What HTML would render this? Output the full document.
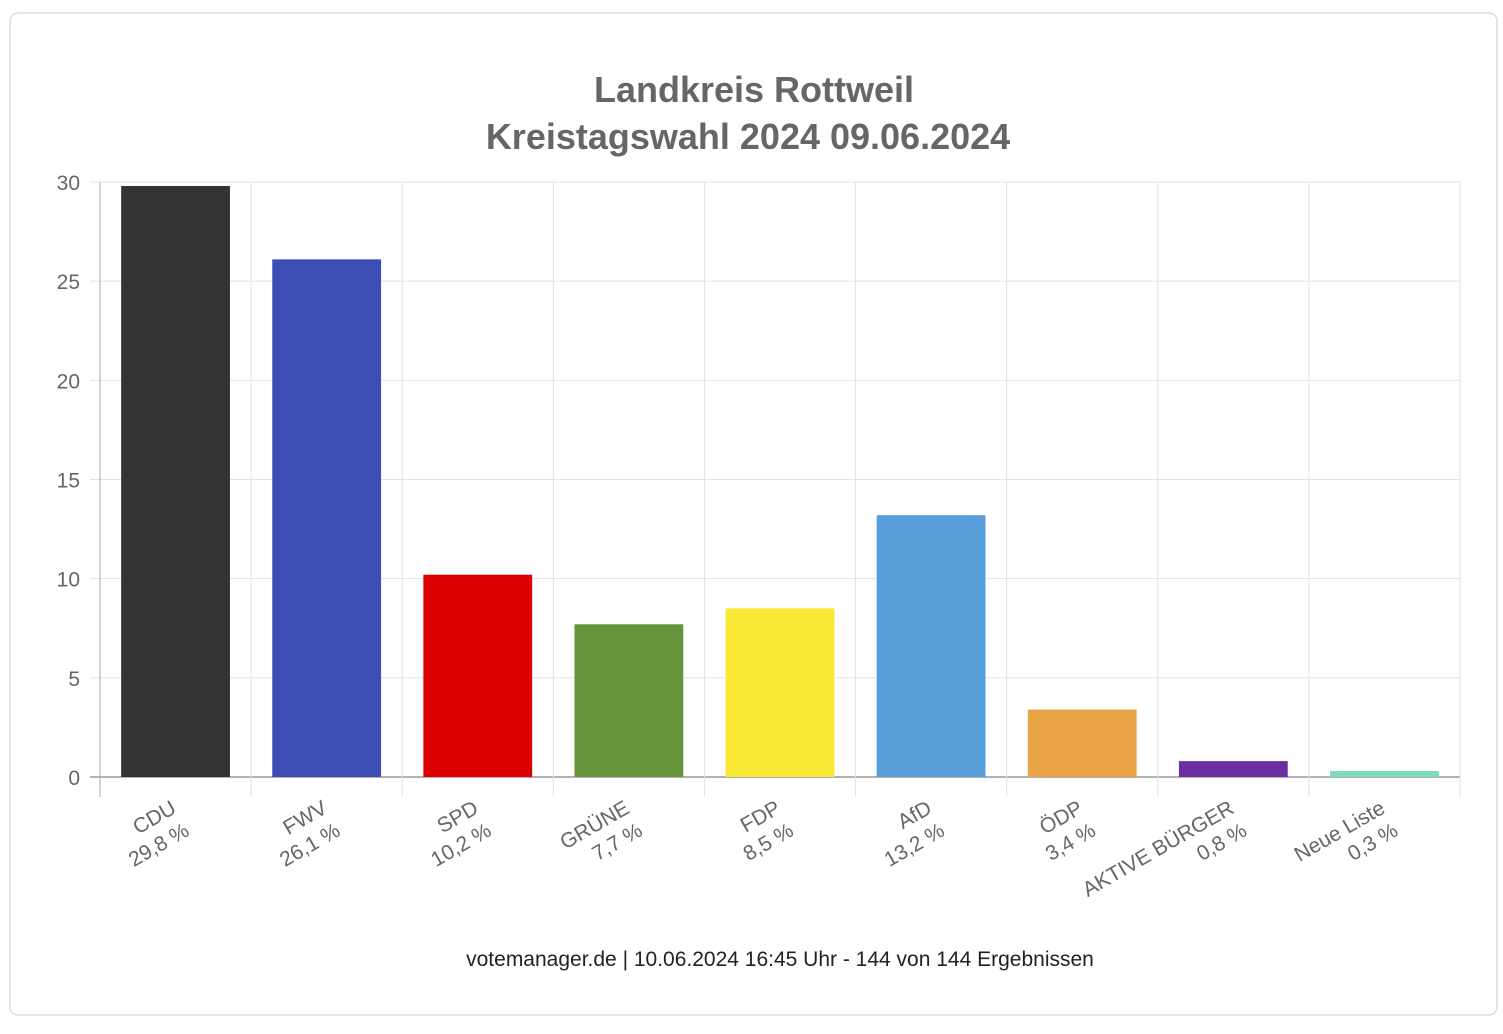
<!DOCTYPE html>
<html><head><meta charset="utf-8"><style>
html,body{margin:0;padding:0;background:#fff;}
body{width:1503px;height:1029px;overflow:hidden;font-family:"Liberation Sans",Arial,sans-serif;}
</style></head><body>
<svg id="chart" width="1503" height="1029" xmlns="http://www.w3.org/2000/svg">
<rect x="10" y="13" width="1487" height="1002" rx="8" fill="#fff" stroke="#dcdcdc" stroke-width="1.5"/>
<text x="754" y="102" text-anchor="middle" font-size="36" font-weight="bold" fill="#666">Landkreis Rottweil</text>
<text x="748" y="149" text-anchor="middle" font-size="36" font-weight="bold" fill="#666">Kreistagswahl 2024 09.06.2024</text>
<g id="grid"></g><g id="bars"></g><g id="labels"></g>
<text x="780" y="966" text-anchor="middle" font-size="21" fill="#222">votemanager.de | 10.06.2024 16:45 Uhr - 144 von 144 Ergebnissen</text>
</svg>
<script>
const categories=["CDU","FWV","SPD","GRÜNE","FDP","AfD","ÖDP","AKTIVE BÜRGER","Neue Liste"];
const values=[29.8,26.1,10.2,7.7,8.5,13.2,3.4,0.8,0.3];
const valueLabels=["29,8 %","26,1 %","10,2 %","7,7 %","8,5 %","13,2 %","3,4 %","0,8 %","0,3 %"];
const colors=["#333333","#3d4fb4","#dd0000","#66943a","#f9e934","#589ed9","#e8a444","#6a2ea0","#7ddcbd"];
const yTicks=[0,5,10,15,20,25,30];
const NS="http://www.w3.org/2000/svg";
const X0=100,X1=1460,Y0=777,Y1=182,YMAX=30;
const bw=(X1-X0)/categories.length;
const y=v=>Y0-(v/YMAX)*(Y0-Y1);
const xc=i=>X0+bw*(i+0.5);
function mk(t,a,p){const e=document.createElementNS(NS,t);for(const k in a)e.setAttribute(k,a[k]);p.appendChild(e);return e;}
const grid=document.getElementById('grid'),bars=document.getElementById('bars'),labels=document.getElementById('labels');
yTicks.forEach(t=>{
  const l=mk('line',{x1:X0-10,x2:X1,y1:y(t),y2:y(t),stroke:t===0?'#999':'#e2e2e2','stroke-width':t===0?1.5:1},grid);
  
  
  const tx=mk('text',{x:X0-20,y:y(t)+8,'text-anchor':'end','font-size':21,fill:'#666'},grid);
  tx.textContent=t;
  
  
});
for(let i=0;i<=categories.length;i++){
  const gx=X0+bw*i;
  const l=mk('line',{x1:gx,x2:gx,y1:Y1,y2:Y0+20,stroke:i===0?'#aaa':'#e2e2e2','stroke-width':1},grid);
  
  
}
categories.forEach((c,i)=>{
  const w=bw*0.72;
  const r=mk('rect',{x:xc(i)-w/2,y:y(values[i]),width:w,height:Y0-y(values[i]),fill:colors[i]},bars);
  
  
  const g=mk('g',{transform:`translate(${xc(i)+2},812) rotate(-30)`},labels);
  
  
  const t1=mk('text',{x:0,y:0,'text-anchor':'end','font-size':21,fill:'#666'},g);t1.textContent=c;
  const t2=mk('text',{x:0,y:26,'text-anchor':'end','font-size':21,fill:'#666'},g);t2.textContent=valueLabels[i];
});
</script>
</body></html>
